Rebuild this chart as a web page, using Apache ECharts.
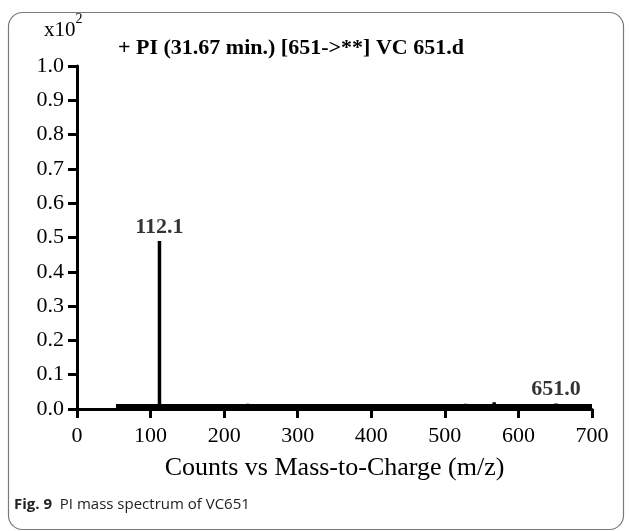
<!DOCTYPE html>
<html>
<head>
<meta charset="utf-8">
<script src="https://cdn.jsdelivr.net/npm/echarts@6/dist/echarts.min.js"></script>
<style>
  html, body { margin: 0; padding: 0; background: #fff; }
  #chart { width: 629px; height: 531px; }
</style>
</head>
<body>
<div id="chart"></div>
<script>
// Product-ion spectrum of VC651 (intensity in units of x10^2 counts)
const peakMz = [112.1, 232.0, 528.0, 567.0, 651.0];
const peakIntensity = [0.49, 0.015, 0.015, 0.02, 0.016];
const labelledPeaks = ['112.1', '651.0'];

// Low-level noise floor across the scanned range
const noiseMz = [53, 700];
const noiseLevel = [0.007, 0.007];

const xTicks = [0, 100, 200, 300, 400, 500, 600, 700];
const yTicks = [0.0, 0.1, 0.2, 0.3, 0.4, 0.5, 0.6, 0.7, 0.8, 0.9, 1.0];

const chart = echarts.init(document.getElementById('chart'), null, { renderer: 'canvas' });

// Each peak is drawn as a vertical stick rising from the baseline
const stickData = [];
peakMz.forEach((mz, i) => {
  stickData.push([mz, 0]);
  stickData.push([mz, peakIntensity[i]]);
  stickData.push([mz, 0]);
});

const labelData = peakMz
  .map((mz, i) => ({ value: [mz, peakIntensity[i]], name: mz.toFixed(1) }))
  .filter(d => labelledPeaks.includes(d.name));

const serif = '"Liberation Serif", "Times New Roman", serif';

chart.setOption({
  animation: false,
  backgroundColor: '#fff',
  grid: { left: 77, right: 37, top: 66, bottom: 122, containLabel: false },
  graphic: [
    {
      type: 'rect',
      shape: { x: 8.5, y: 12.5, width: 615, height: 517, r: 14 },
      style: { fill: 'none', stroke: '#7a7a7a', lineWidth: 1.2 },
      z: -1
    },
    {
      type: 'text',
      left: 44, top: 12,
      style: {
        text: '{b|x10}{s|2}',
        rich: {
          b: { fontFamily: serif, fontSize: 21, fill: '#000', padding: [8, 0, 0, 0] },
          s: { fontFamily: serif, fontSize: 14, fill: '#000', verticalAlign: 'top' }
        }
      }
    },
    {
      type: 'text',
      left: 118, top: 37,
      style: {
        text: '+ PI (31.67 min.) [651->**] VC 651.d',
        fontFamily: serif, fontSize: 22, fontWeight: 'bold', fill: '#000'
      }
    },
    {
      type: 'text',
      left: 14, top: 497,
      style: {
        text: '{b|Fig. 9}{r|  PI mass spectrum of VC651}',
        rich: {
          b: { fontFamily: '"Open Sans", "Noto Sans", sans-serif', fontSize: 15, fontWeight: 'bold', fill: '#222' },
          r: { fontFamily: '"Open Sans", "Noto Sans", sans-serif', fontSize: 15, fill: '#222' }
        }
      }
    }
  ],
  xAxis: {
    type: 'value',
    min: xTicks[0], max: xTicks[xTicks.length - 1], interval: 100,
    name: 'Counts vs Mass-to-Charge (m/z)',
    nameLocation: 'middle', nameGap: 46,
    nameTextStyle: { fontFamily: serif, fontSize: 26, color: '#000' },
    axisLine: { show: true, onZero: false, lineStyle: { color: '#000', width: 3 } },
    axisTick: { show: true, length: 9, lineStyle: { color: '#000', width: 3 } },
    axisLabel: { fontFamily: serif, fontSize: 22, color: '#000', margin: 16 },
    splitLine: { show: false }
  },
  yAxis: {
    type: 'value',
    min: yTicks[0], max: yTicks[yTicks.length - 1], interval: 0.1,
    axisLine: { show: true, onZero: false, lineStyle: { color: '#000', width: 3 } },
    axisTick: { show: true, length: 9, lineStyle: { color: '#000', width: 3 } },
    axisLabel: {
      fontFamily: serif, fontSize: 22, color: '#000', margin: 13,
      formatter: v => v.toFixed(1)
    },
    splitLine: { show: false }
  },
  series: [
    {
      type: 'line',
      data: noiseMz.map((mz, i) => [mz, noiseLevel[i]]),
      symbol: 'none',
      lineStyle: { color: '#000', width: 5 },
      z: 3
    },
    {
      type: 'line',
      data: stickData,
      symbol: 'none',
      lineStyle: { color: '#000', width: 3.5 },
      z: 4
    },
    {
      type: 'scatter',
      data: labelData,
      symbolSize: 0,
      label: {
        show: true, position: 'top', distance: 3,
        formatter: p => p.name,
        fontFamily: serif, fontSize: 22, fontWeight: 'bold', color: '#000'
      },
      z: 5
    }
  ]
});
</script>
</body>
</html>
